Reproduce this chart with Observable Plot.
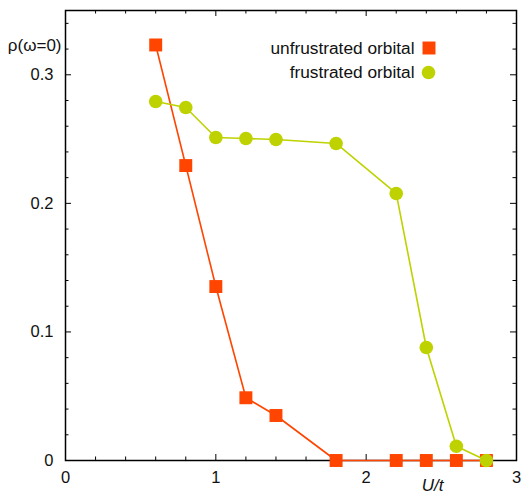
<!DOCTYPE html>
<html><head><meta charset="utf-8">
<script src="https://cdn.jsdelivr.net/npm/d3@7"></script>
<script src="https://cdn.jsdelivr.net/npm/@observablehq/plot@0.6"></script>
<style>body{margin:0;background:#fff}</style>
</head><body><div id="chart"></div>
<script>
const U = [0.6, 0.8, 1.0, 1.2, 1.4, 1.8, 2.2, 2.4, 2.6, 2.8];
const unfrustrated = [0.3232, 0.2294, 0.1353, 0.0488, 0.0350, 0, 0, 0, 0, 0];
const frustrated = [0.2792, 0.2746, 0.2512, 0.2504, 0.2497, 0.2466, 0.2077, 0.0879, 0.0111, 0];
const seriesNames = ["unfrustrated orbital", "frustrated orbital"];
const xMajor = [0, 1, 2, 3];
const xMinor = [0.2, 0.4, 0.6, 0.8, 1.2, 1.4, 1.6, 1.8, 2.2, 2.4, 2.6, 2.8];
const yMajor = [0, 0.1, 0.2, 0.3];
const yMinor = [0.02, 0.04, 0.06, 0.08, 0.12, 0.14, 0.16, 0.18, 0.22, 0.24, 0.26, 0.28, 0.32, 0.34];
const yLabel = "ρ(ω=0)";
const xLabel = "U/t";

const red = "#ff4500", green = "#bed200";
const W = 521, H = 496, mL = 65, mR = 5, mT = 10, mB = 36;
const pw = W - mL - mR, ph = H - mT - mB;

const redData = U.map((u, i) => ({U: u, rho: unfrustrated[i]}));
const greenData = U.map((u, i) => ({U: u, rho: frustrated[i]}));

const tickStyle = {stroke: "#000", strokeWidth: 1};
const chart = Plot.plot({
  width: W, height: H,
  marginLeft: mL, marginRight: mR, marginTop: mT, marginBottom: mB,
  style: {fontFamily: "'Liberation Sans', Arial, sans-serif", fontSize: "16.5px", background: "#fff"},
  x: {domain: [0, 3], axis: null},
  y: {domain: [0, 0.35], axis: null},
  marks: [
    // inward ticks: bottom / top
    Plot.tickX(xMajor, {x: d => d, insetTop: ph - 6, ...tickStyle}),
    Plot.tickX(xMinor, {x: d => d, insetTop: ph - 3.5, ...tickStyle}),
    Plot.tickX(xMajor, {x: d => d, insetBottom: ph - 6, ...tickStyle}),
    Plot.tickX(xMinor, {x: d => d, insetBottom: ph - 3.5, ...tickStyle}),
    // left / right
    Plot.tickY(yMajor, {y: d => d, insetRight: pw - 6, ...tickStyle}),
    Plot.tickY(yMinor, {y: d => d, insetRight: pw - 3.5, ...tickStyle}),
    Plot.tickY(yMajor, {y: d => d, insetLeft: pw - 6, ...tickStyle}),
    Plot.tickY(yMinor, {y: d => d, insetLeft: pw - 3.5, ...tickStyle}),
    Plot.axisX(xMajor, {anchor: "bottom", label: null, tickSize: 0, tickPadding: 11, tickFormat: d => String(d), fill: "#111"}),
    Plot.axisY(yMajor, {anchor: "left", label: null, tickSize: 0, tickPadding: 12, tickFormat: d => d === 0 ? "0" : d3.format(".1f")(d), fill: "#111"}),
    Plot.frame({stroke: "#000", strokeWidth: 1.5}),
    Plot.text([yLabel], {frameAnchor: "top-left", dx: -4, dy: 35, textAnchor: "end", lineAnchor: "middle", fontSize: 17, fill: "#111"}),
    Plot.text([xLabel], {frameAnchor: "bottom", dx: 141.5, dy: 25, lineAnchor: "middle", fontStyle: "italic", fontSize: 17, fill: "#111"}),
    Plot.line(redData, {x: "U", y: "rho", stroke: red, strokeWidth: 1.6}),
    Plot.dot(redData, {x: "U", y: "rho", symbol: "square", r: 7.3, fill: red, stroke: "none"}),
    Plot.line(greenData, {x: "U", y: "rho", stroke: green, strokeWidth: 1.6}),
    Plot.dot(greenData, {x: "U", y: "rho", symbol: "circle", r: 6.8, fill: green, stroke: "none"}),
    // legend
    Plot.text([seriesNames[0]], {frameAnchor: "top-right", dx: -102, dy: 38, textAnchor: "end", lineAnchor: "middle", fontSize: 17.3, fill: "#111"}),
    Plot.dot([seriesNames[0]], {frameAnchor: "top-right", dx: -87.5, dy: 37.5, symbol: "square", r: 7.3, fill: red, stroke: "none"}),
    Plot.text([seriesNames[1]], {frameAnchor: "top-right", dx: -102, dy: 62, textAnchor: "end", lineAnchor: "middle", fontSize: 17.3, fill: "#111"}),
    Plot.dot([seriesNames[1]], {frameAnchor: "top-right", dx: -88, dy: 62, symbol: "circle", r: 6.8, fill: green, stroke: "none"})
  ]
});
document.getElementById("chart").appendChild(chart);
</script>
</body></html>
